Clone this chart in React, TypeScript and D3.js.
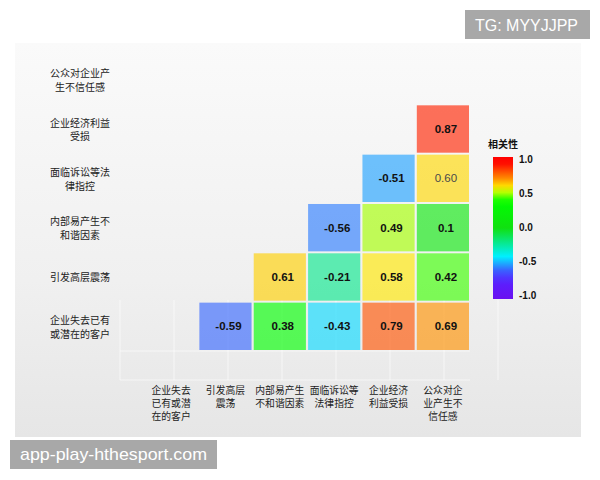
import React from "react";
import * as d3 from "d3";

// ---- data ----
const rowLabels: string[][] = [
  ["公众对企业产", "生不信任感"],
  ["企业经济利益", "受损"],
  ["面临诉讼等法", "律指控"],
  ["内部易产生不", "和谐因素"],
  ["引发高层震荡"],
  ["企业失去已有", "或潜在的客户"],
];
const colLabels: string[][] = [
  ["企业失去", "已有或潜", "在的客户"],
  ["引发高层", "震荡"],
  ["内部易产生", "不和谐因素"],
  ["面临诉讼等", "法律指控"],
  ["企业经济", "利益受损"],
  ["公众对企", "业产生不", "信任感"],
];
// one array per row (top to bottom), one entry per column; "" = empty cell
const rowPublicTrust = ["", "", "", "", "", ""];
const rowEconomicLoss = ["", "", "", "", "", "0.87"];
const rowLitigation = ["", "", "", "", "-0.51", "0.60"];
const rowInternalDiscord = ["", "", "", "-0.56", "0.49", "0.1"];
const rowLeadershipShock = ["", "", "0.61", "-0.21", "0.58", "0.42"];
const rowLostCustomers = ["", "-0.59", "0.38", "-0.43", "0.79", "0.69"];
const matrix = [
  rowPublicTrust,
  rowEconomicLoss,
  rowLitigation,
  rowInternalDiscord,
  rowLeadershipShock,
  rowLostCustomers,
];
const legendTicks = [1.0, 0.5, 0.0, -0.5, -1.0];
const legendTitle = "相关性";

const cjk = "'Noto Sans CJK SC', 'Noto Sans', sans-serif";
const latin = "'Liberation Sans', Arial, sans-serif";

export default function App() {
  const idx = d3.range(6);
  const x = d3.scaleBand<number>().domain(idx).range([145, 469]).paddingInner(0.04);
  const y = d3.scaleBand<number>().domain(idx).range([56, 350]).paddingInner(0.04);

  const stopsDomain = [-1, -0.75, -0.6, -0.4, 0.0, 0.38, 0.55, 0.7, 0.9, 1];
  const stopsRange = ["#6a10f0", "#5a20ff", "#3a60ff", "#00f0ff", "#10e010", "#00ff00", "#ffff00", "#ff8a00", "#ff1000", "#ff0000"];
  const color = d3.scaleLinear<string>().domain(stopsDomain).range(stopsRange).interpolate(d3.interpolateRgb);

  const ly = d3.scaleLinear().domain([-1, 1]).range([295, 159]);

  const cells: { r: number; c: number; t: string }[] = [];
  matrix.forEach((row, r) => row.forEach((t, c) => { if (t !== "") cells.push({ r, c, t }); }));

  const gradStops = d3.range(0, 1.0001, 0.05).map((f) => ({ off: f, col: color(1 - 2 * f) }));

  return (
    <svg width={600} height={480} style={{ position: "absolute", left: 0, top: 0, background: "#ffffff" }}>
      <defs>
        <linearGradient id="panelGrad" x1="0" y1="0" x2="0" y2="1">
          <stop offset="0" stopColor="#fafafa" />
          <stop offset="0.6" stopColor="#f0f0f0" />
          <stop offset="1" stopColor="#e6e6e6" />
        </linearGradient>
        <linearGradient id="legendGrad" x1="0" y1="0" x2="0" y2="1">
          {gradStops.map((s, i) => (
            <stop key={i} offset={s.off} stopColor={s.col} />
          ))}
        </linearGradient>
      </defs>

      {/* background panel */}
      <rect x={15} y={43} width={566} height={394} fill="url(#panelGrad)" />

      {/* faint background grid */}
      <g stroke="#ffffff" strokeOpacity={0.6} strokeWidth={1}>
        {d3.range(0, 8).map((i) => (
          <line key={"v" + i} x1={120 + i * 54} x2={120 + i * 54} y1={300} y2={380} />
        ))}
        <line x1={120} x2={470} y1={351} y2={351} />
        <line x1={120} x2={470} y1={380} y2={380} />
      </g>

      {/* heatmap cells */}
      <g>
        {cells.map((d) => (
          <g key={d.r + "_" + d.c}>
            <rect x={x(d.c)!} y={y(d.r)!} width={x.bandwidth()} height={y.bandwidth()}
              fill={color(+d.t)} fillOpacity={0.64} />
            <text x={x(d.c)! + x.bandwidth() / 2 + 3} y={y(d.r)! + y.bandwidth() / 2}
              textAnchor="middle" dominantBaseline="central" fontFamily={latin}
              fontSize={11.5} fontWeight={d.t === "0.60" ? 400 : 700}
              fill={d.t === "0.60" ? "#4a4a4a" : "#111"}>
              {d.t}
            </text>
          </g>
        ))}
      </g>

      {/* row labels */}
      <g fontFamily={cjk} fontSize={10} fill="#222" textAnchor="middle">
        {rowLabels.map((lines, r) => {
          const cy = y(r)! + y.bandwidth() / 2;
          const lh = 13.6;
          const top = cy - ((lines.length - 1) * lh) / 2;
          return (
            <text key={r}>
              {lines.map((ln, i) => (
                <tspan key={i} x={80} y={top + i * lh} dominantBaseline="central">{ln}</tspan>
              ))}
            </text>
          );
        })}
      </g>

      {/* column labels */}
      <g fontFamily={cjk} fontSize={9.8} fill="#222" textAnchor="middle">
        {colLabels.map((lines, c) => {
          const cx = x(c)! + x.bandwidth() / 2;
          return (
            <text key={c}>
              {lines.map((ln, i) => (
                <tspan key={i} x={cx} y={390 + i * 12.9} dominantBaseline="central">{ln}</tspan>
              ))}
            </text>
          );
        })}
      </g>

      {/* legend */}
      <text x={503} y={148} textAnchor="middle" fontFamily={cjk} fontSize={10} fontWeight={700} fill="#111">
        {legendTitle}
      </text>
      <rect x={493} y={157} width={20} height={142} fill="url(#legendGrad)" />
      <g fontFamily={latin} fontSize={10} fontWeight={700} fill="#111">
        {legendTicks.map((t) => (
          <text key={t} x={519} y={ly(t)} dominantBaseline="central">{t.toFixed(1)}</text>
        ))}
      </g>

      {/* watermark boxes */}
      <rect x={465} y={10} width={125} height={29} fill="#a8a8a8" />
      <text x={475} y={31} fontFamily={latin} fontSize={17} fill="#ffffff" textLength={103} lengthAdjust="spacingAndGlyphs">
        TG: MYYJJPP
      </text>
      <rect x={10} y={440} width={207} height={29} fill="#a8a8a8" />
      <text x={20} y={460} fontFamily={latin} fontSize={17} fill="#ffffff" textLength={187} lengthAdjust="spacingAndGlyphs">
        app-play-hthesport.com
      </text>
    </svg>
  );
}
